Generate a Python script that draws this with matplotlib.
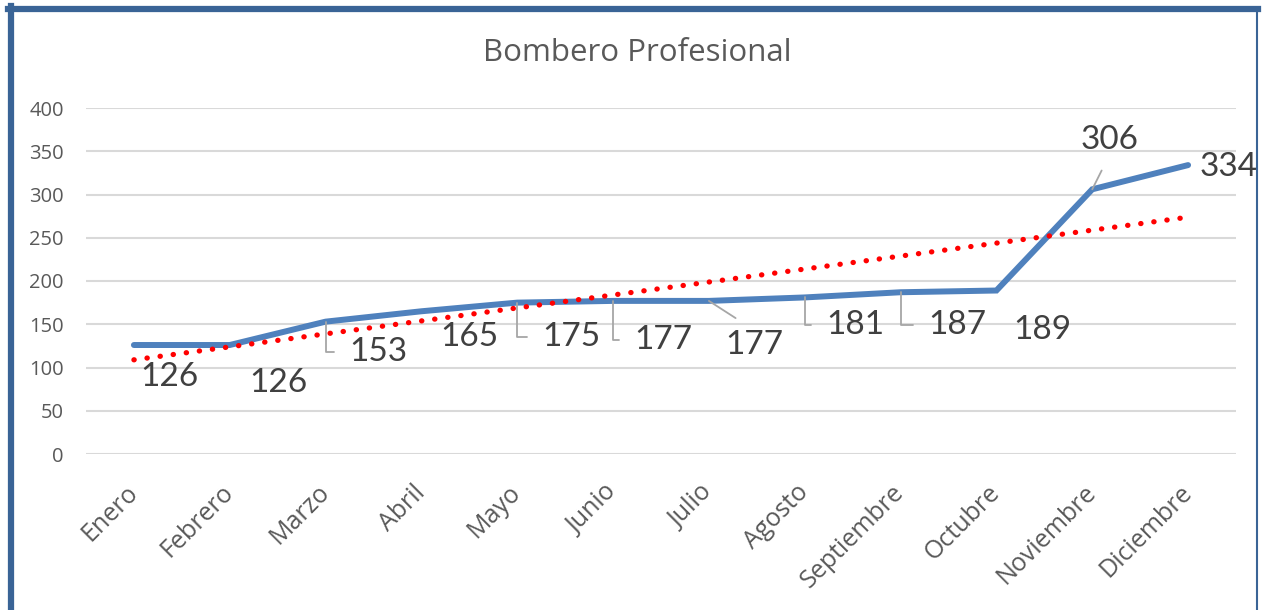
"""Bombero Profesional: monthly line with linear trend and data labels."""

import matplotlib

matplotlib.use("Agg")
import matplotlib.pyplot as plt
import numpy as np
from matplotlib.lines import Line2D

MONTHS = [
    "Enero", "Febrero", "Marzo", "Abril", "Mayo", "Junio",
    "Julio", "Agosto", "Septiembre", "Octubre", "Noviembre", "Diciembre",
]
VALUES = [126, 126, 153, 165, 175, 177, 177, 181, 187, 189, 306, 334]
Y_TICKS = [0, 50, 100, 150, 200, 250, 300, 350, 400]

# label offsets from the point, in pixels (x right, y down) and leader style
LABEL_OFFSETS = [
    (36, 32), (49, 38), (53, 30), (48, 26), (54, 34), (50, 39),
    (45, 44), (51, 28), (57, 33), (46, 39), (17, -49), (41, 2),
]
LEADERS = [None, None, "elbow", None, "elbow", "elbow",
           "straight", "elbow", "elbow", None, "straight_up", None]

TEXT_GREY = "#595959"
LINE_BLUE = "#4f81bd"

fig = plt.figure(figsize=(12.62, 6.10), dpi=100)
ax = fig.add_axes([86 / 1262, 1 - 454 / 610, 1150 / 1262, 346 / 610])

x = np.arange(len(MONTHS))
ax.plot(x, VALUES, color=LINE_BLUE, linewidth=4.3, solid_capstyle="round",
        solid_joinstyle="miter", zorder=3)

# linear trend line (least squares, like the spreadsheet trendline)
slope, intercept = np.polyfit(x, VALUES, 1)
ax.plot(x, slope * x + intercept, color="#ff0000", linewidth=3.8,
        linestyle=(0, (0.05, 2.45)), dash_capstyle="round", zorder=4)

for i, (val, (dx, dy), leader) in enumerate(zip(VALUES, LABEL_OFFSETS, LEADERS)):
    arrow = None
    if leader == "elbow":
        arrow = dict(arrowstyle="-", color="#a6a6a6", linewidth=1.3,
                     connectionstyle="angle,angleA=0,angleB=90,rad=0",
                     relpos=(0, 0.5), shrinkA=9, shrinkB=0)
    elif leader == "straight":
        arrow = dict(arrowstyle="-", color="#a6a6a6", linewidth=1.3,
                     relpos=(0.5, 1), shrinkA=12, shrinkB=0)
    elif leader == "straight_up":
        arrow = dict(arrowstyle="-", color="#a6a6a6", linewidth=1.3,
                     relpos=(0.5, 0), shrinkA=10, shrinkB=0)
    ax.annotate(str(val), xy=(i, val), xytext=(dx, -dy),
                textcoords="offset pixels", ha="center", va="center",
                fontsize=24, color="#404040", family="Lato",
                arrowprops=arrow, zorder=5)

ax.set_xlim(-0.5, len(MONTHS) - 0.5)
ax.set_ylim(0, 400)
ax.set_yticks(Y_TICKS)
ax.set_xticks(x)
ax.set_xticklabels(MONTHS, rotation=45, ha="right", va="center",
                   rotation_mode="anchor", fontsize=18)
ax.tick_params(axis="both", length=0, labelcolor=TEXT_GREY)
ax.tick_params(axis="y", pad=16, labelsize=14.5)
ax.tick_params(axis="x", pad=25)
for lab in ax.get_xticklabels() + ax.get_yticklabels():
    lab.set_family("Open Sans")
ax.grid(axis="y", color="#d9d9d9", linewidth=1.5)
ax.set_axisbelow(True)
for spine in ax.spines.values():
    spine.set_visible(False)

fig.text(637 / 1262, 1 - 61 / 610, "Bombero Profesional", ha="center",
         va="baseline", fontsize=22.5, color=TEXT_GREY, family="Open Sans")

# chart frame
frame = "#3a6496"
fig.add_artist(Line2D([10.5 / 1262, 10.5 / 1262], [0, 1 - 6 / 610],
                      transform=fig.transFigure, color=frame, linewidth=4.5))
fig.add_artist(Line2D([8 / 1262, 1258 / 1262], [1 - 9 / 610, 1 - 9 / 610],
                      transform=fig.transFigure, color=frame, linewidth=4.5))
fig.add_artist(Line2D([1257 / 1262, 1257 / 1262], [0, 1 - 9 / 610],
                      transform=fig.transFigure, color=frame, linewidth=1.5))

fig.savefig("out.png", dpi=100)
